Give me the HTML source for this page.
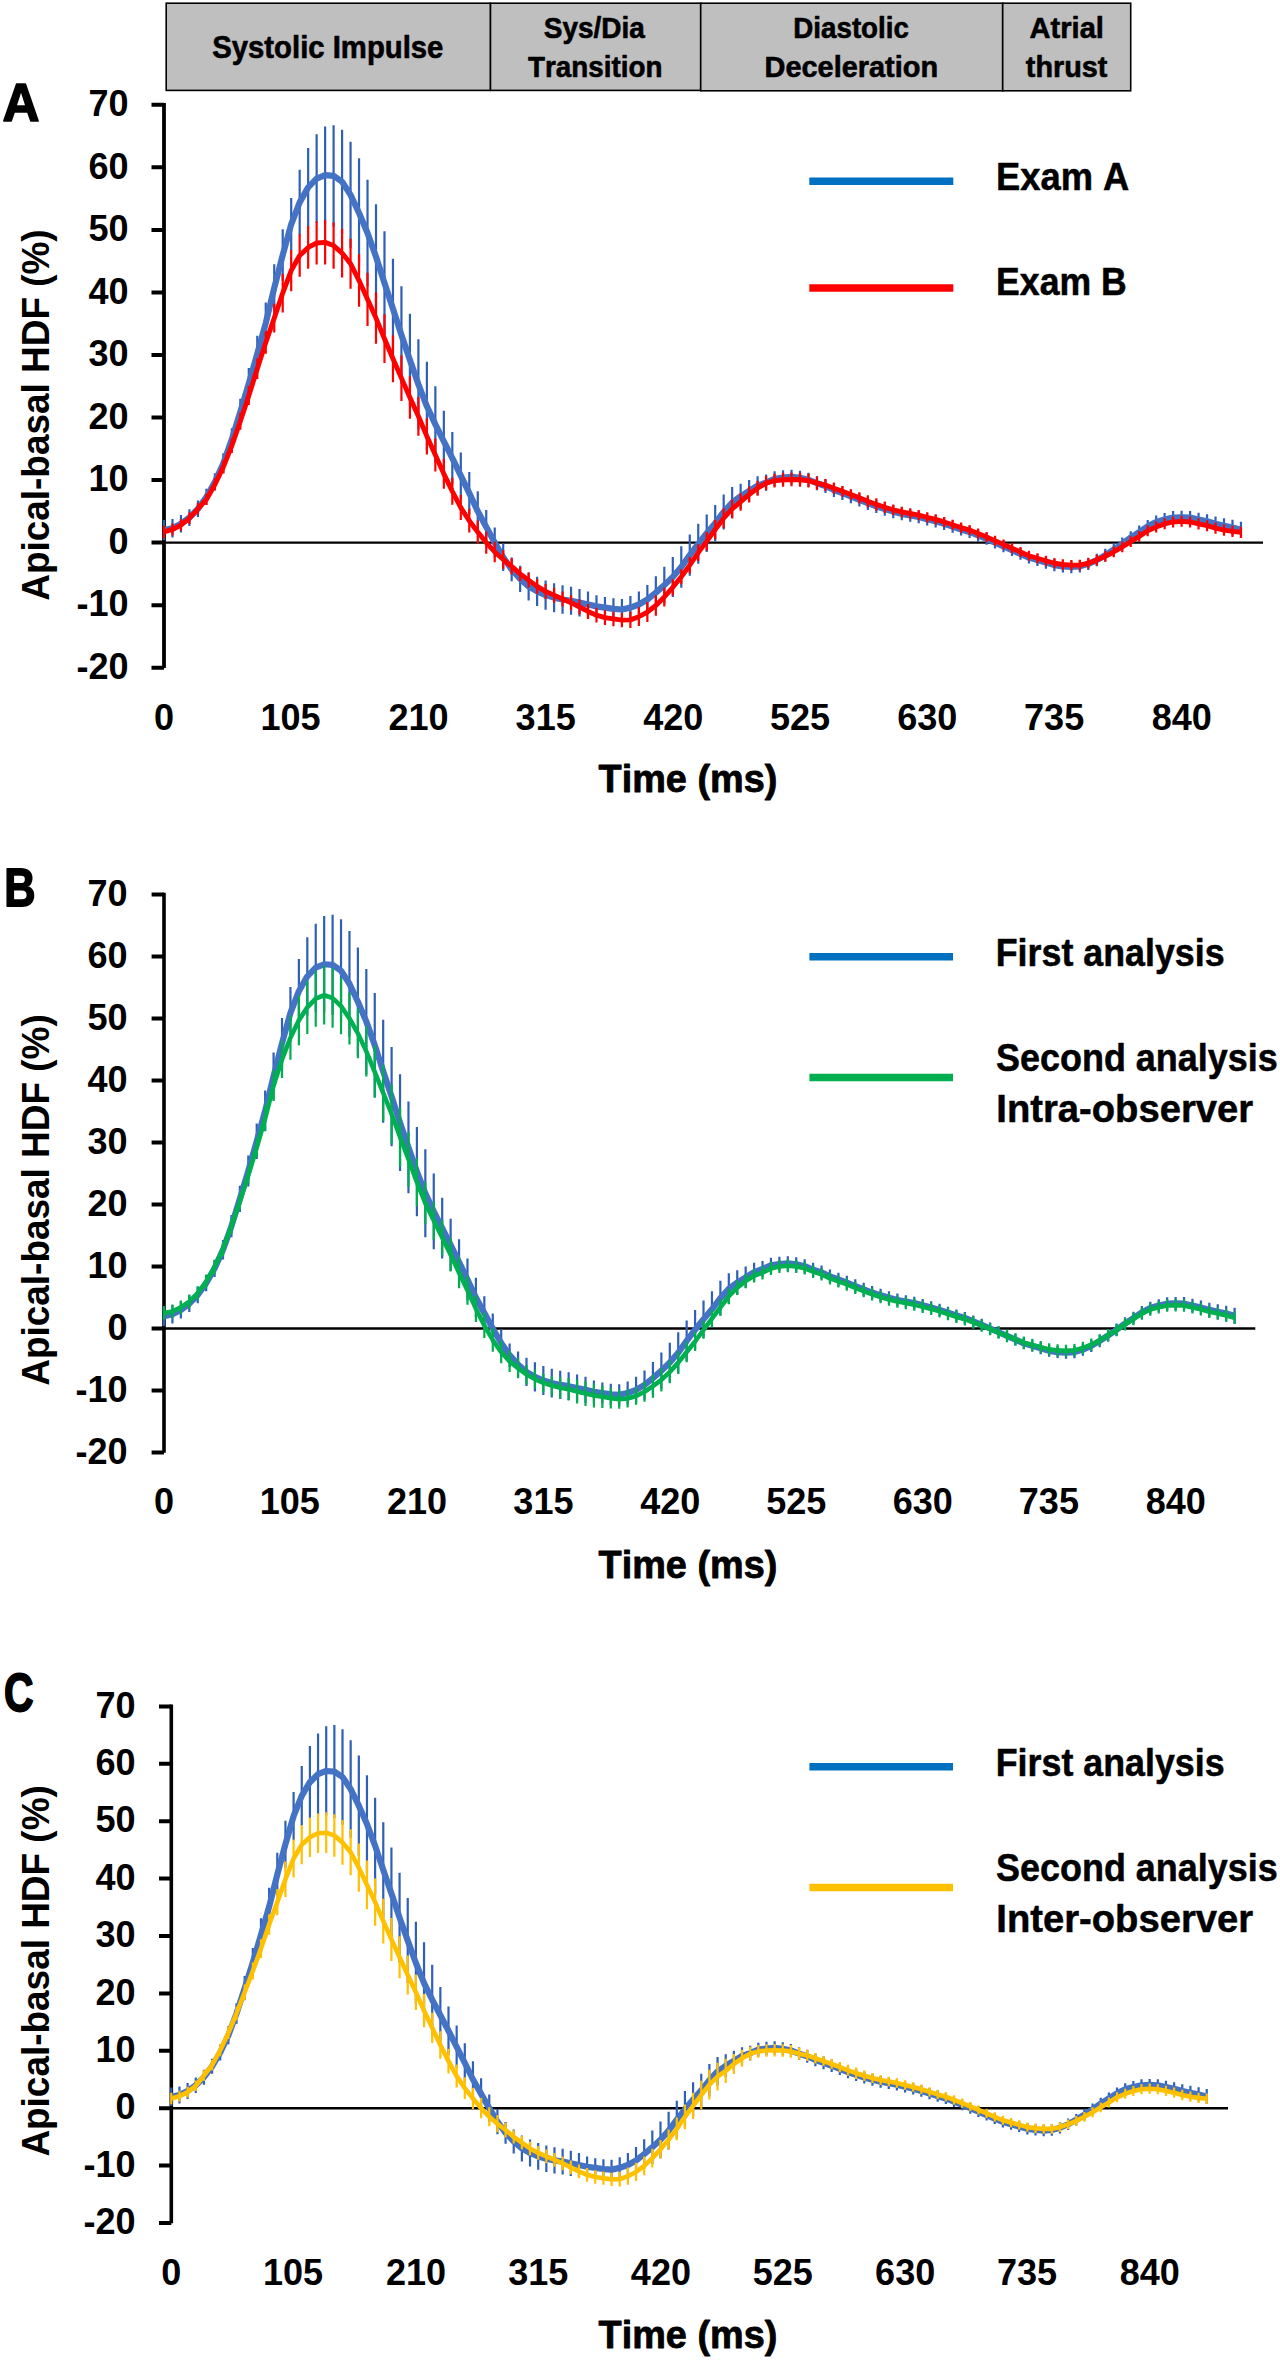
<!DOCTYPE html>
<html><head><meta charset="utf-8"><title>Apical-basal HDF</title>
<style>
html,body{margin:0;padding:0;background:#fff;}
svg{display:block;}
text{font-family:"Liberation Sans", sans-serif;font-weight:bold;fill:#000;font-kerning:none;}
</style></head><body>
<svg width="1280" height="2362" viewBox="0 0 1280 2362">
<rect width="1280" height="2362" fill="#fff"/>
<rect x="166.2" y="3.2" width="324.3" height="87.2" fill="#BFBFBF" stroke="#000" stroke-width="1.6"/>
<rect x="490.5" y="3.2" width="210.2" height="87.2" fill="#BFBFBF" stroke="#000" stroke-width="1.6"/>
<rect x="700.7" y="3.2" width="302" height="87.6" fill="#BFBFBF" stroke="#000" stroke-width="1.6"/>
<rect x="1002.7" y="3.2" width="128" height="87.6" fill="#BFBFBF" stroke="#000" stroke-width="1.6"/>
<text transform="translate(212.26,57.7) scale(0.9329,1)" font-size="31.4" stroke="#000" stroke-width="0.6" stroke-linejoin="round" vector-effect="non-scaling-stroke">Systolic Impulse</text>
<text transform="translate(543.79,37.7) scale(0.9204,1)" font-size="30.38" stroke="#000" stroke-width="0.6" stroke-linejoin="round" vector-effect="non-scaling-stroke">Sys/Dia</text>
<text transform="translate(527.99,76.9) scale(0.9156,1)" font-size="30.38" stroke="#000" stroke-width="0.6" stroke-linejoin="round" vector-effect="non-scaling-stroke">Transition</text>
<text transform="translate(793.35,37.6) scale(0.9260,1)" font-size="29.94" stroke="#000" stroke-width="0.6" stroke-linejoin="round" vector-effect="non-scaling-stroke">Diastolic</text>
<text transform="translate(764.57,76.6) scale(0.9945,1)" font-size="29.07" stroke="#000" stroke-width="0.6" stroke-linejoin="round" vector-effect="non-scaling-stroke">Deceleration</text>
<text transform="translate(1029.58,37.6) scale(0.9719,1)" font-size="29.94" stroke="#000" stroke-width="0.6" stroke-linejoin="round" vector-effect="non-scaling-stroke">Atrial</text>
<text transform="translate(1025.85,76.8) scale(0.9714,1)" font-size="29.65" stroke="#000" stroke-width="0.6" stroke-linejoin="round" vector-effect="non-scaling-stroke">thrust</text>
<path d="M164 103.02V667.98" stroke="#000" stroke-width="3.8"/>
<path d="M151.5 667.68H164M151.5 605.14H164M151.5 542.6H164M151.5 480.06H164M151.5 417.52H164M151.5 354.98H164M151.5 292.44H164M151.5 229.9H164M151.5 167.36H164M151.5 104.82H164" stroke="#000" stroke-width="4"/>
<path d="M164 542.6H1263" stroke="#000" stroke-width="2.4"/>
<text transform="translate(76.38,678.88) scale(1.0000,1)" font-size="36.05">-20</text>
<text transform="translate(76.38,616.34) scale(1.0000,1)" font-size="36.05">-10</text>
<text transform="translate(108.43,553.8) scale(1.0000,1)" font-size="36.05">0</text>
<text transform="translate(88.38,491.26) scale(1.0000,1)" font-size="36.05">10</text>
<text transform="translate(88.38,428.72) scale(1.0000,1)" font-size="36.05">20</text>
<text transform="translate(88.38,366.18) scale(1.0000,1)" font-size="36.05">30</text>
<text transform="translate(88.38,303.64) scale(1.0000,1)" font-size="36.05">40</text>
<text transform="translate(88.38,241.1) scale(1.0000,1)" font-size="36.05">50</text>
<text transform="translate(88.38,178.56) scale(1.0000,1)" font-size="36.05">60</text>
<text transform="translate(88.38,116.02) scale(1.0000,1)" font-size="36.05">70</text>
<text transform="translate(154,730) scale(1.0000,1)" font-size="36.05">0</text>
<text transform="translate(260.49,730) scale(1.0000,1)" font-size="36.05">105</text>
<text transform="translate(388.44,730) scale(1.0000,1)" font-size="36.05">210</text>
<text transform="translate(515.62,730) scale(1.0000,1)" font-size="36.05">315</text>
<text transform="translate(643.19,730) scale(1.0000,1)" font-size="36.05">420</text>
<text transform="translate(769.88,730) scale(1.0000,1)" font-size="36.05">525</text>
<text transform="translate(897.21,730) scale(1.0000,1)" font-size="36.05">630</text>
<text transform="translate(1024.06,730) scale(1.0000,1)" font-size="36.05">735</text>
<text transform="translate(1151.7,730) scale(1.0000,1)" font-size="36.05">840</text>
<text transform="translate(598.57,791.5) scale(0.9903,1)" font-size="38.23" stroke="#000" stroke-width="0.8" stroke-linejoin="round" vector-effect="non-scaling-stroke">Time (ms)</text>
<text transform="translate(48.8,600.77) rotate(-90) scale(0.9309,1)" font-size="39.68">Apical-basal HDF (%)</text>
<text transform="translate(2.42,120.9) scale(0.9407,1)" font-size="54.51" stroke="#000" stroke-width="1.6" stroke-linejoin="round" vector-effect="non-scaling-stroke">A</text>
<path d="M809.3 181.3H953.3" stroke="#0070C0" stroke-width="7.5"/>
<path d="M809.3 288.1H953.3" stroke="#FF0000" stroke-width="7.5"/>
<text transform="translate(996.02,190.45) scale(0.9327,1)" font-size="38.95" stroke="#000" stroke-width="0.5" stroke-linejoin="round" vector-effect="non-scaling-stroke">Exam A</text>
<text transform="translate(996.07,295.35) scale(0.9250,1)" font-size="38.52" stroke="#000" stroke-width="0.5" stroke-linejoin="round" vector-effect="non-scaling-stroke">Exam B</text>
<path d="M164 520.09V540.1M172.48 518.95V537.48M180.96 515.08V532.59M189.44 509.13V526.03M197.92 500.61V517.05M206.4 488.82V505.08M214.88 473.32V490.56M223.36 453.37V472.98M231.84 428.15V450.67M240.32 398.67V425.12M248.8 368.11V399.38M257.28 335.71V371.75M265.76 302.45V343.72M274.24 264.3V311.83M282.72 229.27V280.56M291.2 198V250.54M299.68 169.86V234.9M308.16 147.97V226.77M316.64 134.21V223.02M325.12 126.4V223.96M333.6 125.15V226.46M342.08 129.84V233.65M350.56 141.72V248.04M359.04 158.29V267.74M367.52 179.87V286.19M376 204.26V309.33M384.48 231.15V334.97M392.96 258.67V358.73M401.44 286.19V383.75M409.92 313.7V406.26M418.4 339.35V429.4M426.88 361.86V450.67M435.36 386.25V462.55M443.84 410.64V471.93M452.32 431.9V484.44M460.8 452.54V498.82M469.28 471.93V514.46M477.76 491.32V531.34M486.24 510.08V543.85M494.72 527.59V557.61M503.2 543.54V571.06M511.68 557.61V581.37M520.16 565.74V592.01M528.64 572.22V600.54M537.12 576.68V606.08M545.6 580.49V609.78M554.08 583.13V612.14M562.56 585.2V613.82M571.04 586.69V614.83M579.52 588.9V616.38M588 591.38V617.65M596.48 595.13V617.65M604.96 597.01V618.27M613.44 598.26V619.52M621.92 598.89V620.15M630.4 596.11V619.18M638.88 591.38V617.65M647.36 584.89V614.13M655.84 576.37V608.89M664.32 566.79V603.47M672.8 556.98V597.01M681.28 546.35V587.63M689.76 534.47V575.75M698.24 523.84V563.86M706.72 514.46V551.98M715.2 505.08V541.35M723.68 494.44V529.47M732.16 486.94V518.21M740.64 483.81V508.83M749.12 480.06V501.95M757.6 476.31V495.07M766.08 474.43V490.69M774.56 471.3V486.31M783.04 470.21V484.91M791.52 469.7V484.17M800 470.73V485.02M808.48 472.67V486.83M816.96 476.16V490.21M825.44 479.02V492.98M833.92 483.13V497M842.4 486.31V500.07M850.88 489.5V503.14M859.36 493.01V506.51M867.84 496.51V509.89M876.32 499.7V512.95M884.8 502.58V515.7M893.28 505.14V518.14M901.76 507.4V520.27M910.24 509.02V521.77M918.72 510.64V523.27M927.2 512.89V525.41M935.68 515.13V527.54M944.16 517.68V529.99M952.64 520.54V532.76M961.12 523.4V535.53M969.6 525.94V538M978.08 529.41V541.41M986.56 532.87V544.82M995.04 536.64V548.56M1003.52 540.41V552.3M1012 544.16V556.05M1020.48 547.91V559.8M1028.96 551.65V563.57M1037.44 554.12V566.1M1045.92 556.59V568.63M1054.4 559.06V571.17M1062.88 560.27V572.46M1071.36 560.85V573.13M1079.84 560.18V572.55M1088.32 557.64V570.08M1096.8 553.86V566.37M1105.28 548.83V561.39M1113.76 543.17V555.79M1122.24 537.52V550.18M1130.72 531.24V543.95M1139.2 525.59V538.35M1147.68 519.94V532.74M1156.16 515.53V528.4M1164.64 512.99V525.93M1173.12 511.07V524.1M1181.6 510.7V523.84M1190.08 510.93V524.24M1198.56 512.65V526.27M1207.04 514.32V528.35M1215.52 516.58V531.1M1224 518.18V533.25M1232.48 519.76V535.42M1240.96 521.65V537.91" stroke="#305FB6" stroke-width="2.2" fill="none"/>
<path d="M164 530.09 L172.48 528.22 L180.96 523.84 L189.44 517.58 L197.92 508.83 L206.4 496.95 L214.88 481.94 L223.36 463.17 L231.84 439.41 L240.32 411.89 L248.8 383.75 L257.28 353.73 L265.76 323.08 L274.24 288.06 L282.72 254.92 L291.2 224.27 L299.68 202.38 L308.16 187.37 L316.64 178.62 L325.12 175.18 L333.6 175.8 L342.08 181.74 L350.56 194.88 L359.04 213.01 L367.52 233.03 L376 256.79 L384.48 283.06 L392.96 308.7 L401.44 334.97 L409.92 359.98 L418.4 384.37 L426.88 406.26 L435.36 424.4 L443.84 441.29 L452.32 458.17 L460.8 475.68 L469.28 493.19 L477.76 511.33 L486.24 526.97 L494.72 542.6 L503.2 557.3 L511.68 569.49 L520.16 578.87 L528.64 586.38 L537.12 591.38 L545.6 595.13 L554.08 597.64 L562.56 599.51 L571.04 600.76 L579.52 602.64 L588 604.51 L596.48 606.39 L604.96 607.64 L613.44 608.89 L621.92 609.52 L630.4 607.64 L638.88 604.51 L647.36 599.51 L655.84 592.63 L664.32 585.13 L672.8 577 L681.28 566.99 L689.76 555.11 L698.24 543.85 L706.72 533.22 L715.2 523.21 L723.68 511.96 L732.16 502.57 L740.64 496.32 L749.12 491 L757.6 485.69 L766.08 482.56 L774.56 478.81 L783.04 477.56 L791.52 476.93 L800 477.87 L808.48 479.75 L816.96 483.19 L825.44 486 L833.92 490.07 L842.4 493.19 L850.88 496.32 L859.36 499.76 L867.84 503.2 L876.32 506.33 L884.8 509.14 L893.28 511.64 L901.76 513.83 L910.24 515.4 L918.72 516.96 L927.2 519.15 L935.68 521.34 L944.16 523.84 L952.64 526.65 L961.12 529.47 L969.6 531.97 L978.08 535.41 L986.56 538.85 L995.04 542.6 L1003.52 546.35 L1012 550.1 L1020.48 553.86 L1028.96 557.61 L1037.44 560.11 L1045.92 562.61 L1054.4 565.11 L1062.88 566.37 L1071.36 566.99 L1079.84 566.37 L1088.32 563.86 L1096.8 560.11 L1105.28 555.11 L1113.76 549.48 L1122.24 543.85 L1130.72 537.6 L1139.2 531.97 L1147.68 526.34 L1156.16 521.96 L1164.64 519.46 L1173.12 517.58 L1181.6 517.27 L1190.08 517.58 L1198.56 519.46 L1207.04 521.34 L1215.52 523.84 L1224 525.71 L1232.48 527.59 L1240.96 529.78" stroke="#4472C4" stroke-width="6.2" fill="none" stroke-linejoin="round" stroke-linecap="butt"/>
<path d="M164 525.71V538.22M172.48 523.52V535.42M180.96 519.33V530.85M189.44 512.54V523.88M197.92 503.19V514.46M206.4 493.82V505.08M214.88 478.55V490.32M223.36 460.38V473.47M231.84 438.21V453.11M240.32 412.82V429.72M248.8 386.25V405.01M257.28 358.59V378.89M265.76 331.21V353.73M274.24 303.7V332.47M282.72 273.68V312.45M291.2 249.91V291.19M299.68 234.28V276.81M308.16 225.99V268.83M316.64 221.46V264.61M325.12 220.21V264.61M333.6 222.4V268.67M342.08 228.65V277.43M350.56 238.66V288.69M359.04 254.29V306.82M367.52 272.74V325.9M376 292.44V343.72M384.48 314.33V363.11M392.96 335.28V382.18M401.44 355.29V400.95M409.92 376.24V418.77M418.4 396.88V435.66M426.88 418.15V454.42M435.36 438.47V471.62M443.84 458.8V488.82M452.32 477.87V504.76M460.8 495.07V520.09M469.28 508.83V532.59M477.76 520.4V543.54M486.24 531.53V553.67M494.72 541.66V562.3M503.2 550.1V568.87M511.68 558.33V574.4M520.16 566.68V581.06M528.64 572.85V587.4M537.12 578.95V593.8M545.6 583.88V598.89M554.08 587.63V602.64M562.56 591.38V606.39M571.04 595.13V610.14M579.52 599.51V614.52M588 603.89V618.9M596.48 607.69V622.6M604.96 610.3V625M613.44 611.66V626.14M621.92 612.96V627.34M630.4 611.71V627.97M638.88 607.33V626.09M647.36 602.01V622.03M655.84 595.13V615.77M664.32 587.63V606.39M672.8 579.19V595.45M681.28 569.18V584.19M689.76 556.98V573.24M698.24 544.16V561.05M706.72 531.97V550.73M715.2 519.65V539.28M723.68 508.2V528.22M732.16 499.45V518.21M740.64 493.24V510.66M749.12 486.41V502.48M757.6 480.69V495.7M766.08 476.1V490.28M774.56 473.81V487.56M783.04 472.87V486.63M791.52 472.56V486.31M800 472.87V486.63M808.48 473.81V487.56M816.96 476.58V489.79M825.44 479.01V491.11M833.92 482.56V493.82M842.4 485.9V496.73M850.88 489.13V499.76M859.36 492.32V503.44M867.84 495.31V507.33M876.32 498.2V510.7M884.8 501.47V513.06M893.28 504.45V515.08M901.76 506.69V517.22M910.24 508.3V518.74M918.72 509.91V520.26M927.2 512.13V522.41M935.68 514.35V524.57M944.16 516.88V527.05M952.64 519.71V529.84M961.12 522.55V532.64M969.6 525.06V535.12M978.08 528.51V538.55M986.56 531.96V541.98M995.04 535.72V545.73M1003.52 539.47V549.48M1012 543.23V553.23M1020.48 546.97V556.99M1028.96 550.71V560.76M1037.44 553.18V563.29M1045.92 555.65V565.83M1054.4 558.11V568.37M1062.88 559.32V569.66M1071.36 559.9V570.33M1079.84 559.86V570.37M1088.32 557.95V568.53M1096.8 554.8V565.43M1105.28 551.02V561.7M1113.76 546.62V557.34M1122.24 541.59V552.36M1130.72 536.25V547.07M1139.2 530.92V541.78M1147.68 525.27V536.17M1156.16 521.49V532.44M1164.64 518.35V529.33M1173.12 516.45V527.47M1181.6 515.81V526.86M1190.08 516.42V527.51M1198.56 518.28V529.4M1207.04 520.14V531.29M1215.52 522.62V533.81M1224 524.49V535.7M1232.48 525.73V536.96M1240.96 526.65V537.91" stroke="#FF0000" stroke-width="2.2" fill="none"/>
<path d="M164 531.97 L172.48 529.47 L180.96 525.09 L189.44 518.21 L197.92 508.83 L206.4 499.45 L214.88 484.44 L223.36 466.93 L231.84 445.66 L240.32 421.27 L248.8 395.63 L257.28 368.74 L265.76 342.47 L274.24 318.08 L282.72 293.07 L291.2 270.55 L299.68 255.54 L308.16 247.41 L316.64 243.03 L325.12 242.41 L333.6 245.54 L342.08 253.04 L350.56 263.67 L359.04 280.56 L367.52 299.32 L376 318.08 L384.48 338.72 L392.96 358.73 L401.44 378.12 L409.92 397.51 L418.4 416.27 L426.88 436.28 L435.36 455.04 L443.84 473.81 L452.32 491.32 L460.8 507.58 L469.28 520.71 L477.76 531.97 L486.24 542.6 L494.72 551.98 L503.2 559.49 L511.68 566.37 L520.16 573.87 L528.64 580.12 L537.12 586.38 L545.6 591.38 L554.08 595.13 L562.56 598.89 L571.04 602.64 L579.52 607.02 L588 611.39 L596.48 615.15 L604.96 617.65 L613.44 618.9 L621.92 620.15 L630.4 619.84 L638.88 616.71 L647.36 612.02 L655.84 605.45 L664.32 597.01 L672.8 587.32 L681.28 576.68 L689.76 565.11 L698.24 552.61 L706.72 541.35 L715.2 529.47 L723.68 518.21 L732.16 508.83 L740.64 501.95 L749.12 494.44 L757.6 488.19 L766.08 483.19 L774.56 480.69 L783.04 479.75 L791.52 479.43 L800 479.75 L808.48 480.69 L816.96 483.19 L825.44 485.06 L833.92 488.19 L842.4 491.32 L850.88 494.44 L859.36 497.88 L867.84 501.32 L876.32 504.45 L884.8 507.26 L893.28 509.77 L901.76 511.96 L910.24 513.52 L918.72 515.08 L927.2 517.27 L935.68 519.46 L944.16 521.96 L952.64 524.78 L961.12 527.59 L969.6 530.09 L978.08 533.53 L986.56 536.97 L995.04 540.72 L1003.52 544.48 L1012 548.23 L1020.48 551.98 L1028.96 555.73 L1037.44 558.24 L1045.92 560.74 L1054.4 563.24 L1062.88 564.49 L1071.36 565.11 L1079.84 565.11 L1088.32 563.24 L1096.8 560.11 L1105.28 556.36 L1113.76 551.98 L1122.24 546.98 L1130.72 541.66 L1139.2 536.35 L1147.68 530.72 L1156.16 526.97 L1164.64 523.84 L1173.12 521.96 L1181.6 521.34 L1190.08 521.96 L1198.56 523.84 L1207.04 525.71 L1215.52 528.22 L1224 530.09 L1232.48 531.34 L1240.96 532.28" stroke="#FF0000" stroke-width="4.9" fill="none" stroke-linejoin="round" stroke-linecap="butt"/>
<path d="M164 892.7V1452.8" stroke="#000" stroke-width="3.6"/>
<path d="M151.6 1452.5H164M151.6 1390.5H164M151.6 1328.5H164M151.6 1266.5H164M151.6 1204.5H164M151.6 1142.5H164M151.6 1080.5H164M151.6 1018.5H164M151.6 956.5H164M151.6 894.5H164" stroke="#000" stroke-width="4"/>
<path d="M164 1328.5H1255.3" stroke="#000" stroke-width="2.4"/>
<text transform="translate(75.38,1463.7) scale(1.0000,1)" font-size="36.05">-20</text>
<text transform="translate(75.38,1401.7) scale(1.0000,1)" font-size="36.05">-10</text>
<text transform="translate(107.43,1339.7) scale(1.0000,1)" font-size="36.05">0</text>
<text transform="translate(87.38,1277.7) scale(1.0000,1)" font-size="36.05">10</text>
<text transform="translate(87.38,1215.7) scale(1.0000,1)" font-size="36.05">20</text>
<text transform="translate(87.38,1153.7) scale(1.0000,1)" font-size="36.05">30</text>
<text transform="translate(87.38,1091.7) scale(1.0000,1)" font-size="36.05">40</text>
<text transform="translate(87.38,1029.7) scale(1.0000,1)" font-size="36.05">50</text>
<text transform="translate(87.38,967.7) scale(1.0000,1)" font-size="36.05">60</text>
<text transform="translate(87.38,905.7) scale(1.0000,1)" font-size="36.05">70</text>
<text transform="translate(154,1514) scale(1.0000,1)" font-size="36.05">0</text>
<text transform="translate(259.74,1514) scale(1.0000,1)" font-size="36.05">105</text>
<text transform="translate(386.94,1514) scale(1.0000,1)" font-size="36.05">210</text>
<text transform="translate(513.37,1514) scale(1.0000,1)" font-size="36.05">315</text>
<text transform="translate(640.19,1514) scale(1.0000,1)" font-size="36.05">420</text>
<text transform="translate(766.13,1514) scale(1.0000,1)" font-size="36.05">525</text>
<text transform="translate(892.71,1514) scale(1.0000,1)" font-size="36.05">630</text>
<text transform="translate(1018.81,1514) scale(1.0000,1)" font-size="36.05">735</text>
<text transform="translate(1145.7,1514) scale(1.0000,1)" font-size="36.05">840</text>
<text transform="translate(598.57,1578.3) scale(0.9903,1)" font-size="38.23" stroke="#000" stroke-width="0.8" stroke-linejoin="round" vector-effect="non-scaling-stroke">Time (ms)</text>
<text transform="translate(48.8,1385.72) rotate(-90) scale(0.9308,1)" font-size="39.68">Apical-basal HDF (%)</text>
<text transform="translate(4.3,905.9) scale(0.8115,1)" font-size="53.34" stroke="#000" stroke-width="1.6" stroke-linejoin="round" vector-effect="non-scaling-stroke">B</text>
<path d="M809.4 956.7H953" stroke="#0070C0" stroke-width="7.5"/>
<path d="M809.4 1077.5H953" stroke="#00B050" stroke-width="7.5"/>
<text transform="translate(995.75,966.05) scale(0.9226,1)" font-size="38.81" stroke="#000" stroke-width="0.5" stroke-linejoin="round" vector-effect="non-scaling-stroke">First analysis</text>
<text transform="translate(996.01,1071.15) scale(0.9266,1)" font-size="38.81" stroke="#000" stroke-width="0.5" stroke-linejoin="round" vector-effect="non-scaling-stroke">Second analysis</text>
<text transform="translate(996.3,1122.45) scale(0.9841,1)" font-size="38.81" stroke="#000" stroke-width="0.5" stroke-linejoin="round" vector-effect="non-scaling-stroke">Intra-observer</text>
<path d="M164 1306.18V1326.02M172.43 1305.06V1323.42M180.86 1301.22V1318.58M189.29 1295.32V1312.08M197.72 1286.87V1303.17M206.15 1275.18V1291.3M214.58 1259.81V1276.91M223.01 1240.04V1259.48M231.44 1215.04V1237.36M239.87 1185.81V1212.03M248.3 1155.52V1186.52M256.73 1123.4V1159.12M265.16 1090.42V1131.34M273.59 1052.6V1099.72M282.02 1017.88V1068.72M290.45 986.88V1038.96M298.88 958.98V1023.46M307.31 937.28V1015.4M315.74 923.64V1011.68M324.17 915.89V1012.61M332.6 914.65V1015.09M341.03 919.3V1022.22M349.46 931.08V1036.48M357.89 947.51V1056.01M366.32 968.9V1074.3M374.75 993.08V1097.24M383.18 1019.74V1122.66M391.61 1047.02V1146.22M400.04 1074.3V1171.02M408.47 1101.58V1193.34M416.9 1127V1216.28M425.33 1149.32V1237.36M433.76 1173.5V1249.14M442.19 1197.68V1258.44M450.62 1218.76V1270.84M459.05 1239.22V1285.1M467.48 1258.44V1300.6M475.91 1277.66V1317.34M484.34 1296.26V1329.74M492.77 1313.62V1343.38M501.2 1329.43V1356.71M509.63 1343.38V1366.94M518.06 1351.44V1377.48M526.49 1357.86V1385.94M534.92 1362.29V1391.43M543.35 1366.06V1395.1M551.78 1368.68V1397.44M560.21 1370.73V1399.11M568.64 1372.21V1400.11M577.07 1374.4V1401.64M585.5 1376.86V1402.9M593.93 1380.58V1402.9M602.36 1382.44V1403.52M610.79 1383.68V1404.76M619.22 1384.3V1405.38M627.65 1381.54V1404.42M636.08 1376.86V1402.9M644.51 1370.43V1399.41M652.94 1361.98V1394.22M661.37 1352.48V1388.84M669.8 1342.76V1382.44M678.23 1332.22V1373.14M686.66 1320.44V1361.36M695.09 1309.9V1349.58M703.52 1300.6V1337.8M711.95 1291.3V1327.26M720.38 1280.76V1315.48M728.81 1273.32V1304.32M737.24 1270.22V1295.02M745.67 1266.5V1288.2M754.1 1262.78V1281.38M762.53 1260.92V1277.04M770.96 1257.82V1272.7M779.39 1256.73V1271.31M787.82 1256.23V1270.57M796.25 1257.25V1271.41M804.68 1259.17V1273.21M813.11 1262.63V1276.57M821.54 1265.47V1279.31M829.97 1269.55V1283.29M838.4 1272.7V1286.34M846.83 1275.86V1289.38M855.26 1279.33V1292.73M863.69 1282.81V1296.07M872.12 1285.97V1299.11M880.55 1288.82V1301.84M888.98 1291.37V1304.25M897.41 1293.6V1306.36M905.84 1295.21V1307.85M914.27 1296.82V1309.34M922.7 1299.05V1311.45M931.13 1301.27V1313.57M939.56 1303.8V1316M947.99 1306.63V1318.75M956.42 1309.47V1321.49M964.85 1311.98V1323.94M973.28 1315.42V1327.32M981.71 1318.86V1330.7M990.14 1322.59V1334.41M998.57 1326.33V1338.11M1007 1330.05V1341.83M1015.43 1333.76V1345.56M1023.86 1337.47V1349.29M1032.29 1339.92V1351.8M1040.72 1342.37V1354.31M1049.15 1344.81V1356.83M1057.58 1346.01V1358.11M1066.01 1346.59V1358.77M1074.44 1345.93V1358.19M1082.87 1343.41V1355.75M1091.3 1339.66V1352.06M1099.73 1334.67V1347.13M1108.16 1329.07V1341.57M1116.59 1323.46V1336.02M1125.02 1317.24V1329.84M1133.45 1311.64V1324.28M1141.88 1306.03V1318.73M1150.31 1301.66V1314.42M1158.74 1299.15V1311.97M1167.17 1297.24V1310.16M1175.6 1296.88V1309.9M1184.03 1297.1V1310.3M1192.46 1298.81V1312.31M1200.89 1300.46V1314.38M1209.32 1302.7V1317.1M1217.75 1304.29V1319.23M1226.18 1305.86V1321.38M1234.61 1307.73V1323.85" stroke="#305FB6" stroke-width="2.2" fill="none"/>
<path d="M164 1316.1 L172.43 1314.24 L180.86 1309.9 L189.29 1303.7 L197.72 1295.02 L206.15 1283.24 L214.58 1268.36 L223.01 1249.76 L231.44 1226.2 L239.87 1198.92 L248.3 1171.02 L256.73 1141.26 L265.16 1110.88 L273.59 1076.16 L282.02 1043.3 L290.45 1012.92 L298.88 991.22 L307.31 976.34 L315.74 967.66 L324.17 964.25 L332.6 964.87 L341.03 970.76 L349.46 983.78 L357.89 1001.76 L366.32 1021.6 L374.75 1045.16 L383.18 1071.2 L391.61 1096.62 L400.04 1122.66 L408.47 1147.46 L416.9 1171.64 L425.33 1193.34 L433.76 1211.32 L442.19 1228.06 L450.62 1244.8 L459.05 1262.16 L467.48 1279.52 L475.91 1297.5 L484.34 1313 L492.77 1328.5 L501.2 1343.07 L509.63 1355.16 L518.06 1364.46 L526.49 1371.9 L534.92 1376.86 L543.35 1380.58 L551.78 1383.06 L560.21 1384.92 L568.64 1386.16 L577.07 1388.02 L585.5 1389.88 L593.93 1391.74 L602.36 1392.98 L610.79 1394.22 L619.22 1394.84 L627.65 1392.98 L636.08 1389.88 L644.51 1384.92 L652.94 1378.1 L661.37 1370.66 L669.8 1362.6 L678.23 1352.68 L686.66 1340.9 L695.09 1329.74 L703.52 1319.2 L711.95 1309.28 L720.38 1298.12 L728.81 1288.82 L737.24 1282.62 L745.67 1277.35 L754.1 1272.08 L762.53 1268.98 L770.96 1265.26 L779.39 1264.02 L787.82 1263.4 L796.25 1264.33 L804.68 1266.19 L813.11 1269.6 L821.54 1272.39 L829.97 1276.42 L838.4 1279.52 L846.83 1282.62 L855.26 1286.03 L863.69 1289.44 L872.12 1292.54 L880.55 1295.33 L888.98 1297.81 L897.41 1299.98 L905.84 1301.53 L914.27 1303.08 L922.7 1305.25 L931.13 1307.42 L939.56 1309.9 L947.99 1312.69 L956.42 1315.48 L964.85 1317.96 L973.28 1321.37 L981.71 1324.78 L990.14 1328.5 L998.57 1332.22 L1007 1335.94 L1015.43 1339.66 L1023.86 1343.38 L1032.29 1345.86 L1040.72 1348.34 L1049.15 1350.82 L1057.58 1352.06 L1066.01 1352.68 L1074.44 1352.06 L1082.87 1349.58 L1091.3 1345.86 L1099.73 1340.9 L1108.16 1335.32 L1116.59 1329.74 L1125.02 1323.54 L1133.45 1317.96 L1141.88 1312.38 L1150.31 1308.04 L1158.74 1305.56 L1167.17 1303.7 L1175.6 1303.39 L1184.03 1303.7 L1192.46 1305.56 L1200.89 1307.42 L1209.32 1309.9 L1217.75 1311.76 L1226.18 1313.62 L1234.61 1315.79" stroke="#4472C4" stroke-width="6.2" fill="none" stroke-linejoin="round" stroke-linecap="butt"/>
<path d="M164 1306.18V1319.82M172.43 1304.62V1318.28M180.86 1300.56V1314.28M189.29 1294.61V1308.45M197.72 1286.17V1300.15M206.15 1274.59V1288.74M214.58 1259.94V1274.3M223.01 1241.67V1256.28M231.44 1218.76V1233.64M239.87 1193.75V1209.05M248.3 1167.3V1183.42M256.73 1137.85V1157.07M265.16 1105.86V1130.78M273.59 1069.96V1100.96M282.02 1040.72V1078.12M290.45 1015.6V1059.84M298.88 995.53V1045.13M307.31 980.72V1033.96M315.74 970.57V1026.75M324.17 966.11V1024.39M332.6 968.28V1027.8M341.03 977.84V1034.36M349.46 992.46V1044.54M357.89 1008.58V1058.18M366.32 1026.17V1076.55M374.75 1045.78V1097.86M383.18 1064.77V1121.03M391.61 1084.22V1143.74M400.04 1107.16V1166.68M408.47 1131.96V1186.52M416.9 1158V1206.36M425.33 1182.18V1224.34M433.76 1201.38V1239.86M442.19 1219.81V1255.39M450.62 1238.27V1271.45M459.05 1257.2V1288.2M467.48 1275.88V1304.77M475.91 1295.21V1322.11M484.34 1312.86V1337.94M492.77 1328.2V1351.74M501.2 1340.9V1363.22M509.63 1350.73V1371.99M518.06 1358.05V1378.31M526.49 1364.83V1384.24M534.92 1369.62V1388.44M543.35 1373.55V1392.15M551.78 1375.92V1395.16M560.21 1377.29V1398.08M568.64 1377.95V1400.57M577.07 1379.43V1403.59M585.5 1381.2V1406M593.93 1383.39V1407.53M602.36 1385.42V1407.98M610.79 1387.76V1408.47M619.22 1389.57V1408.79M627.65 1389.55V1407.57M636.08 1387.4V1404.76M644.51 1381.66V1401.82M652.94 1374.69V1397.63M661.37 1368.49V1391.43M669.8 1360.43V1383.37M678.23 1351.13V1374.07M686.66 1341.83V1362.29M695.09 1331.94V1351.1M703.52 1320.64V1338.84M711.95 1309.9V1327.26M720.38 1299.2V1315.64M728.81 1288.5V1304.02M737.24 1280.23V1294.93M745.67 1274.05V1288.09M754.1 1268.98V1282.62M762.53 1265.99V1279.41M770.96 1261.8V1275.01M779.39 1259.98V1273.02M787.82 1259.29V1272.16M796.25 1260.16V1272.89M804.68 1261.99V1274.6M813.11 1265.37V1277.89M821.54 1268.13V1280.59M829.97 1272.13V1284.54M838.4 1275.18V1287.58M846.83 1278.23V1290.63M855.26 1281.59V1293.99M863.69 1284.96V1297.36M872.12 1288.03V1300.43M880.55 1290.79V1303.19M888.98 1293.24V1305.64M897.41 1295.38V1307.78M905.84 1296.91V1309.31M914.27 1298.43V1310.83M922.7 1300.56V1312.96M931.13 1302.7V1315.1M939.56 1305.13V1317.53M947.99 1307.87V1320.27M956.42 1310.59V1322.99M964.85 1313V1325.4M973.28 1316.27V1328.67M981.71 1319.46V1331.86M990.14 1322.9V1335.3M998.57 1326.31V1338.71M1007 1329.74V1342.14M1015.43 1333.15V1345.55M1023.86 1336.52V1348.92M1032.29 1338.68V1351.08M1040.72 1340.9V1353.3M1049.15 1343.17V1355.57M1057.58 1344.21V1356.61M1066.01 1344.68V1357.08M1074.44 1344V1356.4M1082.87 1341.74V1354.14M1091.3 1338.54V1350.94M1099.73 1334.2V1346.6M1108.16 1329.12V1341.52M1116.59 1323.9V1336.3M1125.02 1318.04V1330.44M1133.45 1312.76V1325.16M1141.88 1307.42V1319.82M1150.31 1303.29V1315.69M1158.74 1301.01V1313.41M1167.17 1299.3V1311.7M1175.6 1299.05V1311.45M1184.03 1299.36V1311.76M1192.46 1301.22V1313.62M1200.89 1303.08V1315.48M1209.32 1305.56V1317.96M1217.75 1307.42V1319.82M1226.18 1309.28V1321.68M1234.61 1311.45V1323.85" stroke="#00AE4E" stroke-width="2.2" fill="none"/>
<path d="M164 1313 L172.43 1311.45 L180.86 1307.42 L189.29 1301.53 L197.72 1293.16 L206.15 1281.66 L214.58 1267.12 L223.01 1248.98 L231.44 1226.2 L239.87 1201.4 L248.3 1175.36 L256.73 1147.46 L265.16 1118.32 L273.59 1085.46 L282.02 1059.42 L290.45 1037.72 L298.88 1020.33 L307.31 1007.34 L315.74 998.66 L324.17 995.25 L332.6 998.04 L341.03 1006.1 L349.46 1018.5 L357.89 1033.38 L366.32 1051.36 L374.75 1071.82 L383.18 1092.9 L391.61 1113.98 L400.04 1136.92 L408.47 1159.24 L416.9 1182.18 L425.33 1203.26 L433.76 1220.62 L442.19 1237.6 L450.62 1254.86 L459.05 1272.7 L467.48 1290.32 L475.91 1308.66 L484.34 1325.4 L492.77 1339.97 L501.2 1352.06 L509.63 1361.36 L518.06 1368.18 L526.49 1374.53 L534.92 1379.03 L543.35 1382.85 L551.78 1385.54 L560.21 1387.68 L568.64 1389.26 L577.07 1391.51 L585.5 1393.6 L593.93 1395.46 L602.36 1396.7 L610.79 1398.12 L619.22 1399.18 L627.65 1398.56 L636.08 1396.08 L644.51 1391.74 L652.94 1386.16 L661.37 1379.96 L669.8 1371.9 L678.23 1362.6 L686.66 1352.06 L695.09 1341.52 L703.52 1329.74 L711.95 1318.58 L720.38 1307.42 L728.81 1296.26 L737.24 1287.58 L745.67 1281.07 L754.1 1275.8 L762.53 1272.7 L770.96 1268.4 L779.39 1266.5 L787.82 1265.72 L796.25 1266.53 L804.68 1268.29 L813.11 1271.63 L821.54 1274.36 L829.97 1278.34 L838.4 1281.38 L846.83 1284.43 L855.26 1287.79 L863.69 1291.16 L872.12 1294.23 L880.55 1296.99 L888.98 1299.44 L897.41 1301.58 L905.84 1303.11 L914.27 1304.63 L922.7 1306.76 L931.13 1308.9 L939.56 1311.33 L947.99 1314.07 L956.42 1316.79 L964.85 1319.2 L973.28 1322.47 L981.71 1325.66 L990.14 1329.1 L998.57 1332.51 L1007 1335.94 L1015.43 1339.35 L1023.86 1342.72 L1032.29 1344.88 L1040.72 1347.1 L1049.15 1349.37 L1057.58 1350.41 L1066.01 1350.88 L1074.44 1350.2 L1082.87 1347.94 L1091.3 1344.74 L1099.73 1340.4 L1108.16 1335.32 L1116.59 1330.1 L1125.02 1324.24 L1133.45 1318.96 L1141.88 1313.62 L1150.31 1309.49 L1158.74 1307.21 L1167.17 1305.5 L1175.6 1305.25 L1184.03 1305.56 L1192.46 1307.42 L1200.89 1309.28 L1209.32 1311.76 L1217.75 1313.62 L1226.18 1315.48 L1234.61 1317.65" stroke="#00B050" stroke-width="4.6" fill="none" stroke-linejoin="round" stroke-linecap="butt"/>
<path d="M171.3 1704.6V2223.3" stroke="#000" stroke-width="3.6"/>
<path d="M159 2223H171.3M159 2165.6H171.3M159 2108.2H171.3M159 2050.8H171.3M159 1993.4H171.3M159 1936H171.3M159 1878.6H171.3M159 1821.2H171.3M159 1763.8H171.3M159 1706.4H171.3" stroke="#000" stroke-width="4"/>
<path d="M171.3 2108.2H1228" stroke="#000" stroke-width="2.4"/>
<text transform="translate(83.38,2234.2) scale(1.0000,1)" font-size="36.05">-20</text>
<text transform="translate(83.38,2176.8) scale(1.0000,1)" font-size="36.05">-10</text>
<text transform="translate(115.43,2119.4) scale(1.0000,1)" font-size="36.05">0</text>
<text transform="translate(95.38,2062) scale(1.0000,1)" font-size="36.05">10</text>
<text transform="translate(95.38,2004.6) scale(1.0000,1)" font-size="36.05">20</text>
<text transform="translate(95.38,1947.2) scale(1.0000,1)" font-size="36.05">30</text>
<text transform="translate(95.38,1889.8) scale(1.0000,1)" font-size="36.05">40</text>
<text transform="translate(95.38,1832.4) scale(1.0000,1)" font-size="36.05">50</text>
<text transform="translate(95.38,1775) scale(1.0000,1)" font-size="36.05">60</text>
<text transform="translate(95.38,1717.6) scale(1.0000,1)" font-size="36.05">70</text>
<text transform="translate(161.3,2285) scale(1.0000,1)" font-size="36.05">0</text>
<text transform="translate(262.89,2285) scale(1.0000,1)" font-size="36.05">105</text>
<text transform="translate(385.93,2285) scale(1.0000,1)" font-size="36.05">210</text>
<text transform="translate(508.2,2285) scale(1.0000,1)" font-size="36.05">315</text>
<text transform="translate(630.87,2285) scale(1.0000,1)" font-size="36.05">420</text>
<text transform="translate(752.65,2285) scale(1.0000,1)" font-size="36.05">525</text>
<text transform="translate(875.08,2285) scale(1.0000,1)" font-size="36.05">630</text>
<text transform="translate(997.02,2285) scale(1.0000,1)" font-size="36.05">735</text>
<text transform="translate(1119.76,2285) scale(1.0000,1)" font-size="36.05">840</text>
<text transform="translate(598.57,2348.4) scale(0.9903,1)" font-size="38.23" stroke="#000" stroke-width="0.8" stroke-linejoin="round" vector-effect="non-scaling-stroke">Time (ms)</text>
<text transform="translate(48.8,2156.62) rotate(-90) scale(0.9308,1)" font-size="39.68">Apical-basal HDF (%)</text>
<text transform="translate(4.03,1711.15) scale(0.7635,1)" font-size="53.49" stroke="#000" stroke-width="1.6" stroke-linejoin="round" vector-effect="non-scaling-stroke">C</text>
<path d="M809.4 1766.7H953" stroke="#0070C0" stroke-width="7.5"/>
<path d="M809.4 1887.5H953" stroke="#FFC000" stroke-width="7.5"/>
<text transform="translate(995.75,1776.05) scale(0.9226,1)" font-size="38.81" stroke="#000" stroke-width="0.5" stroke-linejoin="round" vector-effect="non-scaling-stroke">First analysis</text>
<text transform="translate(996.01,1881.15) scale(0.9266,1)" font-size="38.81" stroke="#000" stroke-width="0.5" stroke-linejoin="round" vector-effect="non-scaling-stroke">Second analysis</text>
<text transform="translate(996.3,1932.45) scale(0.9841,1)" font-size="38.81" stroke="#000" stroke-width="0.5" stroke-linejoin="round" vector-effect="non-scaling-stroke">Inter-observer</text>
<path d="M171.3 2087.54V2105.9M179.45 2086.5V2103.5M187.61 2082.94V2099.02M195.76 2077.48V2093M203.91 2069.66V2084.75M212.06 2058.84V2073.76M220.22 2044.61V2060.43M228.37 2026.3V2044.3M236.52 2003.16V2023.82M244.68 1976.1V2000.37M252.83 1948.05V1976.75M260.98 1918.32V1951.39M269.14 1887.78V1925.67M277.29 1852.77V1896.39M285.44 1820.63V1867.69M293.6 1791.93V1840.14M301.75 1766.1V1825.79M309.9 1746.01V1818.33M318.05 1733.38V1814.89M326.21 1726.2V1815.75M334.36 1725.05V1818.04M342.51 1729.36V1824.64M350.67 1740.27V1837.85M358.82 1755.48V1855.93M366.97 1775.28V1872.86M375.12 1797.67V1894.1M383.28 1822.35V1917.63M391.43 1847.6V1939.44M399.58 1872.86V1962.4M407.74 1898.12V1983.07M415.89 1921.65V2004.31M424.04 1942.31V2023.82M432.2 1964.7V2034.73M440.35 1987.09V2043.34M448.5 2006.6V2054.82M456.66 2025.54V2068.02M464.81 2043.34V2082.37M472.96 2061.13V2097.87M481.11 2078.35V2109.35M489.27 2094.42V2121.98M497.42 2109.06V2134.32M505.57 2121.98V2143.79M513.73 2129.44V2153.55M521.88 2135.38V2161.38M530.03 2139.48V2166.46M538.19 2142.97V2169.86M546.34 2145.4V2172.03M554.49 2147.3V2173.57M562.64 2148.67V2174.5M570.8 2150.69V2175.92M578.95 2152.97V2177.08M587.1 2156.42V2177.08M595.26 2158.14V2177.65M603.41 2159.29V2178.8M611.56 2159.86V2179.38M619.72 2157.31V2178.48M627.87 2152.97V2177.08M636.02 2147.02V2173.85M644.17 2139.2V2169.04M652.33 2130.4V2164.07M660.48 2121.4V2158.14M668.63 2111.64V2149.53M676.79 2100.74V2138.62M684.94 2090.98V2127.72M693.09 2082.37V2116.81M701.25 2073.76V2107.05M709.4 2064V2096.15M717.55 2057.11V2085.81M725.7 2054.24V2077.2M733.86 2050.8V2070.89M742.01 2047.36V2064.58M750.16 2045.63V2060.56M758.32 2042.76V2056.54M766.47 2041.76V2055.25M774.62 2041.29V2054.57M782.78 2042.23V2055.35M790.93 2044.02V2057.01M799.08 2047.22V2060.12M807.23 2049.85V2062.66M815.39 2053.62V2066.35M823.54 2056.54V2069.17M831.69 2059.47V2071.98M839.85 2062.68V2075.08M848 2065.9V2078.18M856.15 2068.83V2080.99M864.31 2071.47V2083.51M872.46 2073.82V2085.75M880.61 2075.89V2087.7M888.76 2077.38V2089.08M896.92 2078.87V2090.46M905.07 2080.93V2092.42M913.22 2082.99V2094.38M921.38 2085.33V2096.63M929.53 2087.96V2099.17M937.68 2090.58V2101.71M945.84 2092.91V2103.98M953.99 2096.09V2107.11M962.14 2099.27V2110.24M970.29 2102.73V2113.67M978.45 2106.19V2117.1M986.6 2109.63V2120.54M994.75 2113.07V2123.99M1002.91 2116.5V2127.45M1011.06 2118.78V2129.77M1019.21 2121.04V2132.09M1027.37 2123.3V2134.42M1035.52 2124.41V2135.61M1043.67 2124.95V2136.22M1051.82 2124.34V2135.69M1059.98 2122.01V2133.42M1068.13 2118.53V2130.01M1076.28 2113.91V2125.45M1084.44 2108.72V2120.3M1092.59 2103.54V2115.16M1100.74 2097.78V2109.44M1108.89 2092.59V2104.3M1117.05 2087.4V2099.15M1125.2 2083.35V2095.16M1133.35 2081.02V2092.9M1141.51 2079.26V2091.22M1149.66 2078.93V2090.98M1157.81 2079.13V2091.35M1165.97 2080.71V2093.21M1174.12 2082.24V2095.12M1182.27 2084.32V2097.64M1190.43 2085.79V2099.62M1198.58 2087.24V2101.61M1206.73 2088.97V2103.89" stroke="#305FB6" stroke-width="2.2" fill="none"/>
<path d="M171.3 2096.72 L179.45 2095 L187.61 2090.98 L195.76 2085.24 L203.91 2077.2 L212.06 2066.3 L220.22 2052.52 L228.37 2035.3 L236.52 2013.49 L244.68 1988.23 L252.83 1962.4 L260.98 1934.85 L269.14 1906.73 L277.29 1874.58 L285.44 1844.16 L293.6 1816.03 L301.75 1795.94 L309.9 1782.17 L318.05 1774.13 L326.21 1770.97 L334.36 1771.55 L342.51 1777 L350.67 1789.06 L358.82 1805.7 L366.97 1824.07 L375.12 1845.88 L383.28 1869.99 L391.43 1893.52 L399.58 1917.63 L407.74 1940.59 L415.89 1962.98 L424.04 1983.07 L432.2 1999.71 L440.35 2015.21 L448.5 2030.71 L456.66 2046.78 L464.81 2062.85 L472.96 2079.5 L481.11 2093.85 L489.27 2108.2 L497.42 2121.69 L505.57 2132.88 L513.73 2141.49 L521.88 2148.38 L530.03 2152.97 L538.19 2156.42 L546.34 2158.71 L554.49 2160.43 L562.64 2161.58 L570.8 2163.3 L578.95 2165.03 L587.1 2166.75 L595.26 2167.9 L603.41 2169.04 L611.56 2169.62 L619.72 2167.9 L627.87 2165.03 L636.02 2160.43 L644.17 2154.12 L652.33 2147.23 L660.48 2139.77 L668.63 2130.59 L676.79 2119.68 L684.94 2109.35 L693.09 2099.59 L701.25 2090.41 L709.4 2080.07 L717.55 2071.46 L725.7 2065.72 L733.86 2060.84 L742.01 2055.97 L750.16 2053.1 L758.32 2049.65 L766.47 2048.5 L774.62 2047.93 L782.78 2048.79 L790.93 2050.51 L799.08 2053.67 L807.23 2056.25 L815.39 2059.98 L823.54 2062.85 L831.69 2065.72 L839.85 2068.88 L848 2072.04 L856.15 2074.91 L864.31 2077.49 L872.46 2079.79 L880.61 2081.8 L888.76 2083.23 L896.92 2084.67 L905.07 2086.67 L913.22 2088.68 L921.38 2090.98 L929.53 2093.56 L937.68 2096.15 L945.84 2098.44 L953.99 2101.6 L962.14 2104.76 L970.29 2108.2 L978.45 2111.64 L986.6 2115.09 L994.75 2118.53 L1002.91 2121.98 L1011.06 2124.27 L1019.21 2126.57 L1027.37 2128.86 L1035.52 2130.01 L1043.67 2130.59 L1051.82 2130.01 L1059.98 2127.72 L1068.13 2124.27 L1076.28 2119.68 L1084.44 2114.51 L1092.59 2109.35 L1100.74 2103.61 L1108.89 2098.44 L1117.05 2093.28 L1125.2 2089.26 L1133.35 2086.96 L1141.51 2085.24 L1149.66 2084.95 L1157.81 2085.24 L1165.97 2086.96 L1174.12 2088.68 L1182.27 2090.98 L1190.43 2092.7 L1198.58 2094.42 L1206.73 2096.43" stroke="#4472C4" stroke-width="6.2" fill="none" stroke-linejoin="round" stroke-linecap="butt"/>
<path d="M171.3 2092.7V2104.18M179.45 2090.69V2101.61M187.61 2086.84V2097.42M195.76 2080.61V2091.02M203.91 2070.31V2080.65M212.06 2059.98V2070.32M220.22 2044.83V2055.63M228.37 2027V2039.01M236.52 2006.65V2020.33M244.68 1984.5V2000.01M252.83 1962.4V1979.62M260.98 1939.31V1957.94M269.14 1914.19V1934.85M277.29 1888.93V1915.34M285.44 1861.38V1896.97M293.6 1839.57V1877.45M301.75 1825.22V1864.25M309.9 1817.61V1856.93M318.05 1813.45V1853.06M326.21 1812.3V1853.06M334.36 1814.31V1856.79M342.51 1820.05V1864.82M350.67 1829.24V1875.16M358.82 1843.59V1891.8M366.97 1860.52V1909.31M375.12 1878.6V1925.67M383.28 1898.69V1943.46M391.43 1917.92V1960.97M399.58 1936.29V1978.19M407.74 1955.52V1994.55M415.89 1974.46V2010.05M424.04 1993.97V2027.27M432.2 2012.63V2043.05M440.35 2031.28V2058.84M448.5 2048.79V2073.47M456.66 2064.58V2087.54M464.81 2077.2V2099.02M472.96 2087.82V2109.06M481.11 2098.04V2118.36M489.27 2107.34V2126.28M497.42 2115.09V2132.31M505.57 2122.64V2137.39M513.73 2130.3V2143.5M521.88 2135.96V2149.32M530.03 2141.57V2155.19M538.19 2146.08V2159.86M546.34 2149.53V2163.3M554.49 2152.97V2166.75M562.64 2156.42V2170.19M570.8 2160.43V2174.21M578.95 2164.45V2178.23M587.1 2167.94V2181.63M595.26 2170.34V2183.82M603.41 2171.58V2184.87M611.56 2172.77V2185.98M619.72 2171.63V2186.55M627.87 2167.61V2184.83M636.02 2162.73V2181.1M644.17 2156.42V2175.36M652.33 2148.81V2167.47M660.48 2140.06V2158.42M668.63 2129.4V2149.57M676.79 2117.38V2140.34M684.94 2104.44V2129.18M693.09 2092.7V2119.11M701.25 2080.72V2109.28M709.4 2069.74V2099.59M717.55 2062.85V2090.41M725.7 2058.84V2082.94M733.86 2053.96V2074.05M742.01 2049.65V2066.87M750.16 2046.78V2060.56M758.32 2045.06V2057.69M766.47 2044.2V2056.83M774.62 2043.91V2056.54M782.78 2044.2V2056.83M790.93 2045.06V2057.69M799.08 2047.61V2059.73M807.23 2049.84V2060.95M815.39 2053.1V2063.43M823.54 2056.16V2066.1M831.69 2059.12V2068.88M839.85 2062.06V2072.26M848 2064.8V2075.83M856.15 2067.45V2078.93M864.31 2070.45V2081.09M872.46 2073.19V2082.94M880.61 2075.24V2084.91M888.76 2076.72V2086.3M896.92 2078.19V2087.7M905.07 2080.23V2089.67M913.22 2082.27V2091.65M921.38 2084.59V2093.92M929.53 2087.19V2096.49M937.68 2089.79V2099.05M945.84 2092.1V2101.34M953.99 2095.27V2104.48M962.14 2098.43V2107.63M970.29 2101.88V2111.07M978.45 2105.33V2114.51M986.6 2108.77V2117.96M994.75 2112.21V2121.41M1002.91 2115.64V2124.87M1011.06 2117.91V2127.19M1019.21 2120.17V2129.52M1027.37 2122.43V2131.85M1035.52 2123.54V2133.04M1043.67 2124.08V2133.65M1051.82 2124.04V2133.69M1059.98 2122.29V2132M1068.13 2119.39V2129.15M1076.28 2115.93V2125.73M1084.44 2111.89V2121.73M1092.59 2107.28V2117.16M1100.74 2102.38V2112.3M1108.89 2097.48V2107.44M1117.05 2092.29V2102.3M1125.2 2088.83V2098.87M1133.35 2085.94V2096.02M1141.51 2084.2V2094.32M1149.66 2083.61V2093.76M1157.81 2084.17V2094.35M1165.97 2085.87V2096.09M1174.12 2087.58V2097.82M1182.27 2089.87V2100.13M1190.43 2091.58V2101.86M1198.58 2092.71V2103.02M1206.73 2093.56V2103.89" stroke="#FFC000" stroke-width="2.2" fill="none"/>
<path d="M171.3 2098.44 L179.45 2096.15 L187.61 2092.13 L195.76 2085.81 L203.91 2075.48 L212.06 2065.15 L220.22 2050.23 L228.37 2033.01 L236.52 2013.49 L244.68 1992.25 L252.83 1971.01 L260.98 1948.63 L269.14 1924.52 L277.29 1902.13 L285.44 1879.17 L293.6 1858.51 L301.75 1844.73 L309.9 1837.27 L318.05 1833.25 L326.21 1832.68 L334.36 1835.55 L342.51 1842.44 L350.67 1852.2 L358.82 1867.69 L366.97 1884.91 L375.12 1902.13 L383.28 1921.08 L391.43 1939.44 L399.58 1957.24 L407.74 1975.03 L415.89 1992.25 L424.04 2010.62 L432.2 2027.84 L440.35 2045.06 L448.5 2061.13 L456.66 2076.06 L464.81 2088.11 L472.96 2098.44 L481.11 2108.2 L489.27 2116.81 L497.42 2123.7 L505.57 2130.01 L513.73 2136.9 L521.88 2142.64 L530.03 2148.38 L538.19 2152.97 L546.34 2156.42 L554.49 2159.86 L562.64 2163.3 L570.8 2167.32 L578.95 2171.34 L587.1 2174.78 L595.26 2177.08 L603.41 2178.23 L611.56 2179.38 L619.72 2179.09 L627.87 2176.22 L636.02 2171.91 L644.17 2165.89 L652.33 2158.14 L660.48 2149.24 L668.63 2139.48 L676.79 2128.86 L684.94 2116.81 L693.09 2105.9 L701.25 2095 L709.4 2084.67 L717.55 2076.63 L725.7 2070.89 L733.86 2064 L742.01 2058.26 L750.16 2053.67 L758.32 2051.37 L766.47 2050.51 L774.62 2050.23 L782.78 2050.51 L790.93 2051.37 L799.08 2053.67 L807.23 2055.39 L815.39 2058.26 L823.54 2061.13 L831.69 2064 L839.85 2067.16 L848 2070.32 L856.15 2073.19 L864.31 2075.77 L872.46 2078.06 L880.61 2080.07 L888.76 2081.51 L896.92 2082.94 L905.07 2084.95 L913.22 2086.96 L921.38 2089.26 L929.53 2091.84 L937.68 2094.42 L945.84 2096.72 L953.99 2099.88 L962.14 2103.03 L970.29 2106.48 L978.45 2109.92 L986.6 2113.37 L994.75 2116.81 L1002.91 2120.25 L1011.06 2122.55 L1019.21 2124.85 L1027.37 2127.14 L1035.52 2128.29 L1043.67 2128.86 L1051.82 2128.86 L1059.98 2127.14 L1068.13 2124.27 L1076.28 2120.83 L1084.44 2116.81 L1092.59 2112.22 L1100.74 2107.34 L1108.89 2102.46 L1117.05 2097.29 L1125.2 2093.85 L1133.35 2090.98 L1141.51 2089.26 L1149.66 2088.68 L1157.81 2089.26 L1165.97 2090.98 L1174.12 2092.7 L1182.27 2095 L1190.43 2096.72 L1198.58 2097.87 L1206.73 2098.73" stroke="#FFC000" stroke-width="4.6" fill="none" stroke-linejoin="round" stroke-linecap="butt"/>
</svg>
</body></html>
